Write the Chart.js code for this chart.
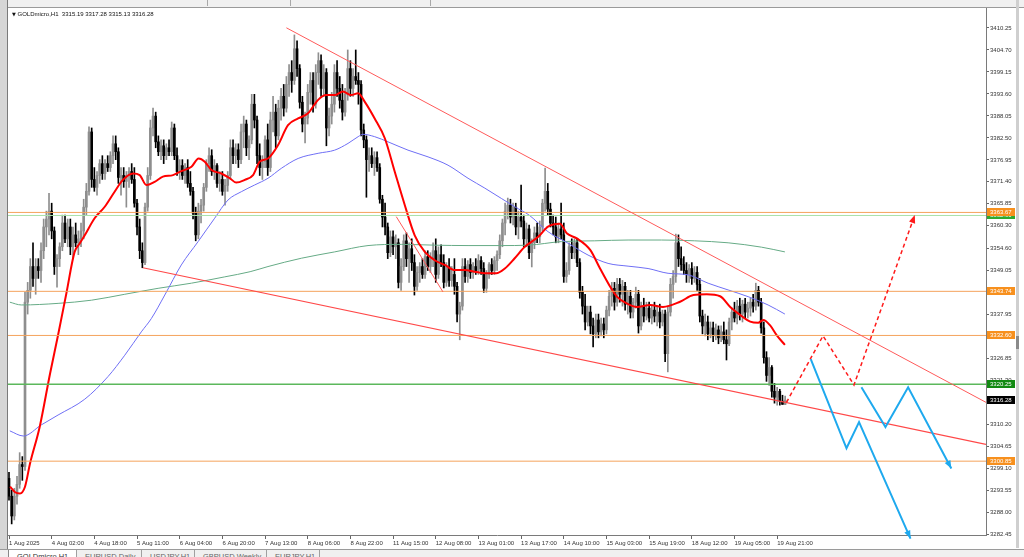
<!DOCTYPE html>
<html><head><meta charset="utf-8">
<script src="https://cdn.jsdelivr.net/npm/chart.js@4.4.1/dist/chart.umd.min.js"></script>
<style>
html,body{margin:0;padding:0;width:1024px;height:557px;overflow:hidden;background:#fff;font-family:"Liberation Sans",Arial,sans-serif;}
#wrap{position:relative;width:1024px;height:557px;}
#c{position:absolute;left:0;top:0;}
.top{position:absolute;left:0;top:0;width:1024px;height:7px;background:#f0f0f0;border-bottom:1px solid #9a9a9a;}
.sep{position:absolute;top:0;width:1px;height:6px;background:#a8a8a8;}
.left{position:absolute;left:0;top:0;width:7px;height:557px;background:#d6d6d6;border-right:1px solid #7a7a7a;}
.right{position:absolute;left:1016px;top:0;width:3px;height:548px;background:#cfcfcf;}
.thumb{position:absolute;left:1016px;top:336px;width:3px;height:13px;background:#8a8a8a;}
.tabs{position:absolute;left:0;top:549px;width:1024px;height:8px;background:#f0f0f0;border-top:1px solid #9a9a9a;overflow:hidden;}
.tab{position:absolute;top:0;height:8px;font-size:7.5px;line-height:14px;color:#666;padding-left:8px;border-right:1px solid #a0a0a0;box-sizing:border-box;overflow:hidden;white-space:nowrap;}
.tab.act{background:#fff;color:#333;border-left:1px solid #888;}
.title{position:absolute;left:12px;top:11px;font-size:6px;line-height:7px;color:#111;white-space:pre;}
.tri{font-family:"DejaVu Sans";font-size:5px;}
</style>
</head><body>
<div id="wrap">
<canvas id="c" width="1024" height="557" style="width:1024px;height:557px"></canvas>
<div class="top"><div class="sep" style="left:207px"></div><div class="sep" style="left:290px"></div><div class="sep" style="left:430px"></div></div>
<div class="left"></div>
<div class="right"></div><div class="thumb"></div>
<div class="title"><span class="tri">▼</span> GOLDmicro,H1  3315.19 3317.28 3315.13 3316.28</div>
<div class="tabs">
<div class="tab act" style="left:8px;width:69px">GOLDmicro,H1</div>
<div class="tab" style="left:77px;width:65px">EURUSD,Daily</div>
<div class="tab" style="left:142px;width:53px">USDJPY,H1</div>
<div class="tab" style="left:195px;width:72px">GBPUSD,Weekly</div>
<div class="tab" style="left:267px;width:53px">EURJPY,H1</div>
</div>
</div>
<script>
// ---- Tick labels (x: bar index of each label) ----
const xTickBars=[0,16,32,48,64,80,96,112,128,144,160,176,192,208,224,240,256,272,288];
const xTickLabels=["1 Aug 2025","4 Aug 02:00","4 Aug 18:00","5 Aug 11:00","6 Aug 04:00","6 Aug 20:00","7 Aug 13:00","8 Aug 06:00","8 Aug 22:00","11 Aug 15:00","12 Aug 08:00","13 Aug 01:00","13 Aug 17:00","14 Aug 10:00","15 Aug 03:00","15 Aug 19:00","18 Aug 12:00","19 Aug 05:00","19 Aug 21:00"];
const yTickValues=[3410.25,3404.70,3399.15,3393.60,3388.05,3382.50,3376.95,3371.40,3365.85,3360.30,3354.60,3349.05,3343.50,3337.95,3332.40,3326.85,3321.30,3315.75,3310.20,3304.65,3299.10,3293.55,3288.00,3282.45];

// ---- H1 candles (OHLC), bar 0 .. 291 ----
const opens=[3296.5,3292,3287,3292,3295,3300,3299.5,3341,3344,3350,
3347,3350,3349,3354,3360,3362,3364,3359,3350,3352,
3355,3361,3357,3360,3355,3358,3356,3357,3359,3365,
3369,3384,3372,3370,3373,3376,3373.5,3376,3375,3378,
3381,3379,3372.5,3373,3371.5,3373,3374,3372,3366,3360,
3354,3351,3365,3373,3385,3388,3381.5,3379,3380.5,3378,
3380,3379,3385,3378,3374,3375.5,3373,3375,3371,3369,
3363.5,3358,3364,3365.5,3370,3376,3378,3374,3375.5,3371,
3372,3369,3370.5,3373,3380,3378,3379.5,3377,3384,3386,
3380,3382,3391,3387,3378,3375,3376.5,3382,3375,3387,
3389,3383,3390,3393,3390,3396,3399,3397,3405,3400,
3391.5,3386,3387.5,3394,3397,3391,3399,3402,3395,3399,
3385,3388,3391,3399,3395,3392,3389,3393.5,3400,3395,
3398,3397,3396,3384.5,3382,3377,3378,3376,3377.5,3375,
3367,3362.5,3360,3353.5,3357.5,3355,3356,3346,3350,3356.5,
3352,3354.5,3351,3345,3348.5,3350,3348,3352.5,3350,3352,
3354,3348,3353,3351,3346,3350,3346.5,3348,3345,3338,
3340,3350,3347.5,3350.5,3348.5,3350,3349,3351.5,3349.5,3344.5,
3348,3350.5,3349,3351.5,3353,3356.5,3361,3364,3365.5,3362.5,
3365,3360,3362.5,3361.5,3357,3359.5,3353.5,3356,3358.5,3357.5,
3360,3366,3369,3364.5,3361,3360,3357.5,3359.5,3358,3347.5,
3349,3355,3353.5,3356,3351,3343.5,3340,3336,3338.5,3335,
3333,3336.5,3333.5,3335.5,3334,3339,3342.5,3344.5,3341,3345.5,
3343,3345,3340.5,3342.5,3338.5,3341,3343,3335,3340,3337.5,
3339.5,3337,3339,3337.5,3338.5,3336,3338,3328,3338.5,3345.5,
3347.5,3356,3352,3350.5,3349,3348,3349.5,3347,3348.5,3345.5,
3337.5,3335,3336,3333,3334.5,3332.5,3334,3332,3333.5,3331.5,
3330.5,3336,3338.5,3337,3340,3338,3340.5,3338.5,3339.5,3341,
3340,3344,3341,3334.5,3327,3322.5,3324.5,3318.5,3317,3318.5,
3316,3315.19];
const highs=[3298,3293.5,3294,3297,3303,3302,3343.5,3346,3352,3356,
3352,3352,3356,3362,3364,3368.5,3366,3360,3353,3356,
3363,3363,3362,3362,3360,3361,3359,3361,3367,3371,
3385.3,3385,3375,3374,3377,3378,3377,3378,3379,3383,
3383,3380,3375,3375,3374,3375,3376,3375,3367,3362,
3356,3366,3375,3387,3390,3389,3383,3382,3382,3381,
3382,3386.5,3386,3380,3377,3377,3376,3377,3374,3370,
3365,3366,3367,3371,3377,3380,3379.5,3377,3376,3374,
3374,3372,3374,3382,3382,3381,3381,3386,3388,3387,
3383,3393.5,3393.5,3388,3381,3378,3383,3386,3389,3393,
3391,3392,3395,3396,3398,3401,3402,3408.5,3407,3401,
3393,3389,3396,3399,3399,3401,3404,3403.5,3401,3400,
3390,3394,3401,3402,3398,3396,3395,3404.7,3402,3400,
3404.7,3399,3397,3386,3383,3380,3380,3379,3379,3376,
3368,3366,3361,3359,3359,3358,3357,3352,3358,3358.5,
3356,3357,3353,3350,3351,3352,3354,3354,3353.5,3356,
3357,3355,3355.5,3353,3351,3352,3350,3352,3346,3341,
3352,3352,3351.5,3352,3351,3352,3353,3352.5,3351,3349,
3351,3352,3352.5,3354,3358,3362,3366,3367.3,3367,3366,
3366,3364,3370.6,3363,3361,3360.5,3357,3360,3361,3361.5,
3367,3374.9,3371,3366,3363,3362.5,3361,3366,3361,3351,
3356,3357,3357,3357,3352,3345,3343,3340,3340,3337,
3338,3338,3337,3337,3340,3344,3346,3346,3347,3347,
3346.5,3346,3344,3344,3342,3344.8,3344,3341,3342,3341,
3341,3340,3341,3340,3340.5,3339,3339,3340,3347,3349,
3358.2,3358,3355,3352.5,3351,3350.5,3351,3350,3350,3347,
3339,3338,3337.5,3336,3336,3335.5,3335,3335,3336,3334,
3337,3339.5,3341,3341.5,3342,3341.5,3342,3341,3342,3343,
3345.8,3345,3342,3336,3328.5,3327,3325,3320.5,3319.5,3319,
3317.5,3317.28];
const lows=[3291,3285,3286,3290,3294,3296,3298.5,3338,3342,3345,
3343,3347,3346,3352,3355,3358,3357,3348,3344.8,3350,
3354,3356,3355,3353,3352,3355,3353,3355,3357,3363,
3368,3370,3369,3368,3371,3372,3372,3374,3374,3376,
3377,3371,3368,3370,3365,3370,3371,3365,3358,3352,
3349.7,3350.5,3364,3372,3383,3380,3378,3377,3376,3377,
3378,3378,3377,3373,3372,3372,3371,3370,3368,3362,
3356.5,3357,3361,3364,3369,3374,3373,3372,3370,3369,
3368,3365.5,3369,3372,3376,3376,3375,3376,3380,3378,
3377,3381,3385,3376,3373,3372,3375,3373,3374,3384,
3380,3382,3387,3388,3389,3393,3394,3396,3398,3390,
3384,3381.2,3386,3391,3389,3390,3396,3393,3393,3380.5,
3383,3386,3389,3393,3390,3387,3388,3392,3393,3393,
3396,3391,3383,3380,3367.5,3374,3375,3373,3374,3366,
3360,3358,3352,3352.5,3353,3352,3344.6,3344,3349,3350,
3346,3349,3342.8,3344,3346,3347,3347,3349,3348.5,3350,
3346,3347,3350,3344.6,3345,3345,3345,3343,3336,3331.5,
3339,3346,3346,3347,3347,3348,3348,3348,3343.5,3343.5,
3347,3348,3348,3349,3352,3355,3358,3362,3361,3360.5,
3358,3357,3360,3355,3355,3352,3349.9,3354.5,3356,3356,
3359,3364,3363,3360,3358,3356,3356,3357,3346,3346,
3348,3352,3352,3350,3342,3338,3334,3335,3333,3329.7,
3332,3332,3332.5,3332,3333,3337.5,3340,3339,3340,3341,
3340,3339,3338,3337,3337,3339.5,3333.2,3334,3336,3336.5,
3336,3335.5,3336,3335,3334.5,3335,3326,3323.4,3337.5,3342,
3346,3350,3349,3348,3346,3346,3345.5,3346,3344,3336,
3333,3332.5,3331.5,3332,3331,3331.5,3330.5,3331,3330.5,3326.4,
3330,3334,3336,3335.5,3336.5,3336,3337,3337,3337.5,3338.5,
3339,3340,3333.2,3325.6,3321,3320,3317,3315.5,3315,3315,
3315.2,3315.13];
const closes=[3292,3287,3292,3295,3300,3299.5,3341,3344,3350,3347,
3350,3349,3354,3360,3362,3364,3359,3350,3352,3355,
3361,3357,3360,3355,3358,3356,3357,3359,3365,3369,
3384,3372,3370,3373,3376,3373.5,3376,3375,3378,3381,
3379,3372.5,3373,3371.5,3373,3374,3372,3366,3360,3354,
3351,3365,3373,3385,3388,3381.5,3379,3380.5,3378,3380,
3379,3385,3378,3374,3375.5,3373,3375,3371,3369,3363.5,
3358,3364,3365.5,3370,3376,3378,3374,3375.5,3371,3372,
3369,3370.5,3373,3380,3378,3379.5,3377,3384,3386,3380,
3382,3391,3387,3378,3375,3376.5,3382,3375,3387,3389,
3383,3390,3393,3390,3396,3399,3397,3405,3400,3391.5,
3386,3387.5,3394,3397,3391,3399,3402,3395,3399,3385,
3388,3391,3399,3395,3392,3389,3393.5,3400,3395,3398,
3397,3396,3384.5,3382,3377,3378,3376,3377.5,3375,3367,
3362.5,3360,3353.5,3357.5,3355,3356,3346,3350,3356.5,3352,
3354.5,3351,3345,3348.5,3350,3348,3352.5,3350,3352,3354,
3348,3353,3351,3346,3350,3346.5,3348,3345,3338,3340,
3350,3347.5,3350.5,3348.5,3350,3349,3351.5,3349.5,3344.5,3348,
3350.5,3349,3351.5,3353,3356.5,3361,3364,3365.5,3362.5,3365,
3360,3362.5,3361.5,3357,3359.5,3353.5,3356,3358.5,3357.5,3360,
3366,3369,3364.5,3361,3360,3357.5,3359.5,3358,3347.5,3349,
3355,3353.5,3356,3351,3343.5,3340,3336,3338.5,3335,3333,
3336.5,3333.5,3335.5,3334,3339,3342.5,3344.5,3341,3345.5,3343,
3345,3340.5,3342.5,3338.5,3341,3343,3335,3340,3337.5,3339.5,
3337,3339,3337.5,3338.5,3336,3338,3328,3338.5,3345.5,3347.5,
3356,3352,3350.5,3349,3348,3349.5,3347,3348.5,3345.5,3337.5,
3335,3336,3333,3334.5,3332.5,3334,3332,3333.5,3331.5,3330.5,
3336,3338.5,3337,3340,3338,3340.5,3338.5,3339.5,3341,3340,
3344,3341,3334.5,3327,3322.5,3324.5,3318.5,3317,3318.5,3316,
3315.2,3316.28];

// ---- Moving averages (bar position, price) ----
const redMaBars=[0.4,2.3,4.1,6,7.9,11.5,15.4,18.4,21.5,24.6,26.5,28.4,32.1,35.9,39.6,42.7,46.5,49,51.5,54.6,57.7,61.5,64.6,68.4,71.1,73.4,75.9,79.6,82.8,85.2,88.4,91.5,94,97.1,100.9,104.6,108.4,112.1,115.9,119,122.1,125.2,128.3,130.9,133.4,137.1,140.9,144.6,148.4,152.1,155.9,159.6,163.4,167.1,170.9,174.6,178.4,182.7,185.9,189.6,193.4,198.4,202.1,206.6,209.1,212.9,217.9,221.6,225.4,227.9,231.6,235.4,240.4,245.2,251.6,256.6,261.6,266.6,270.4,274.1,277.9,280.9,282.8,285.3,287.8,290.9];
const redMaValues=[3294.4,3293,3292.7,3294.4,3300.3,3309.5,3323,3332.7,3343.2,3353.7,3355.8,3357.9,3362.2,3365.1,3368.9,3371.9,3373.5,3373.1,3370.6,3371.4,3372.7,3373.1,3374.1,3375.2,3377.3,3376.5,3374.4,3373.5,3372.3,3371.2,3371.9,3373.1,3376.5,3377.3,3380.7,3385.7,3387.4,3388.7,3392.1,3393.3,3393.3,3394.2,3393.3,3393.8,3391.6,3387.4,3382.4,3374,3365.5,3357.9,3353.7,3351.6,3350.4,3349.1,3349.1,3348.7,3348.3,3348.3,3349.5,3352.1,3355,3357.5,3360.1,3360.8,3358.4,3357.1,3354.2,3349.5,3344.9,3342.4,3340.7,3339.8,3340.3,3339.8,3341.1,3342.8,3343,3342.5,3339.8,3337.8,3336.1,3335.8,3336.5,3335.2,3332.7,3330.2];
const blueMaBars=[0.3,5.4,12.1,18.4,28.4,37.1,43.4,49.6,53.4,58.4,64.6,70.9,77.1,82.1,87.1,92.1,97.1,102.1,108.4,115.9,122.1,127.1,130.9,132.7,137.1,142.1,149.6,157.1,164.6,172.1,178.4,184.6,189.6,195,202.1,209.6,217.1,224.6,232.1,239.6,247.1,254.6,262.1,269.6,277.1,284.6,290.9];
const blueMaValues=[3308.5,3307.2,3310,3312.5,3316.5,3322.2,3327.6,3333.5,3336.9,3342.8,3350.4,3356.3,3362.2,3366.8,3368.9,3370.6,3372.3,3374.8,3377.3,3378.6,3379.4,3381.1,3382.8,3383.4,3382.8,3381.5,3379.4,3377.7,3375.6,3372.3,3369.8,3367.2,3365.1,3363,3358.8,3355.9,3352.9,3350.8,3350.1,3349.5,3348.3,3347.9,3345.8,3344.1,3342.4,3340.3,3338];
const greenMaBars=[0.3,4.6,18.4,30.9,43.4,55.9,68.4,80.9,90.4,97.1,109.6,122.1,134.6,147.1,159.6,172.1,184.6,194.6,207.1,219.6,232.1,244.6,257.1,269.6,282.1,290.9];
const greenMaValues=[3341,3340.3,3340.7,3341.5,3343,3344.5,3345.8,3347.4,3348.7,3350,3352.1,3353.7,3355.3,3355.6,3355.4,3355.3,3355.3,3355.4,3356.3,3356.5,3356.7,3356.7,3356.5,3356,3354.9,3353.7];

// ---- Drawn objects: trendlines, levels, projected paths ----
const upperTrendBars=[104,366.3], upperTrendValues=[3410.3,3315.7];
const lowerTrendBars=[50.2,366.3], lowerTrendValues=[3349.7,3305.1];
const shortTrendBars=[145.2,162.7], shortTrendValues=[3362.6,3343.6];
const redPathBars=[291.5,305.2,316.8,339.6], redPathValues=[3315.7,3332.5,3320.1,3363.0];
const bluePath1Bars=[300.6,314,318.7,338], bluePath1Values=[3326.6,3304.1,3310.7,3281.3];
const bluePath2Bars=[319.6,328.6,337.1,353.3], bluePath2Values=[3319.5,3309.5,3319.5,3299.0];
const levelValues=[3363.67,3362.9,3343.74,3332.60,3320.25,3300.85];
const levelColors=['#f5a35c','#a9e2a9','#f5a35c','#f5a35c','#5cb85c','#f5a35c'];
const boxValues=[3362.9,3363.67,3343.74,3332.60,3320.25,3300.85,3316.28];
const boxTexts=['3362.90','3363.67','3343.74','3332.60','3320.25','3300.85','3316.28'];
const boxColors=['#2fa82f','#f7901e','#f7901e','#f7901e','#128a12','#f7901e','#000000'];

const X_MIN=-0.375, X_MAX=366.3, Y_MIN=3282.2, Y_MAX=3415.3;

const pts=(xs,ys)=>xs.map((x,i)=>({x:x,y:ys[i]}));
function mkLine(xs,ys,color,width,order,extra){
  return Object.assign({type:'line',data:pts(xs,ys),borderColor:color,backgroundColor:color,borderWidth:width,
    pointRadius:0,pointHoverRadius:0,fill:false,tension:0,order:order},extra||{});
}
const bullColor='#8e8e8e', bearColor='#000000';
const candleColors=closes.map((c,i)=>c>=opens[i]?bullColor:bearColor);

const datasets=[
  {type:'bar',data:opens.map((o,i)=>({x:i,y:[lows[i],highs[i]]})),backgroundColor:candleColors,barThickness:1,grouped:false,order:30},
  {type:'bar',data:opens.map((o,i)=>({x:i,y:[o,closes[i]]})),backgroundColor:candleColors,barThickness:2,grouped:false,minBarLength:1,order:29},
  mkLine(greenMaBars,greenMaValues,'#66ab86',1,28,{cubicInterpolationMode:'monotone'}),
  mkLine(blueMaBars,blueMaValues,'#6f6ff5',1,27,{cubicInterpolationMode:'monotone'}),
  mkLine(redMaBars,redMaValues,'#ff0000',2,26,{cubicInterpolationMode:'monotone'})
];
levelValues.forEach((v,i)=>datasets.push(mkLine([X_MIN,X_MAX],[v,v],levelColors[i],i===4?1.5:1,20)));
datasets.push(mkLine(upperTrendBars,upperTrendValues,'#ff5a5a',1,10));
datasets.push(mkLine(lowerTrendBars,lowerTrendValues,'#ff4848',1.2,10));
datasets.push(mkLine(shortTrendBars,shortTrendValues,'#ff5a5a',1,10));
datasets.push(mkLine(redPathBars,redPathValues,'#ff1a1a',1.5,5,{borderDash:[4,3],arrowHead:true,clip:false}));
datasets.push(mkLine(bluePath1Bars,bluePath1Values,'#1ea9ee',2,4,{arrowHead:true,clip:false}));
datasets.push(mkLine(bluePath2Bars,bluePath2Values,'#1ea9ee',2,4,{arrowHead:true,clip:false}));

const arrowPlugin={id:'arrowHeads',afterDatasetsDraw(chart){
  const ctx=chart.ctx;
  chart.data.datasets.forEach((ds,i)=>{
    if(!ds.arrowHead) return;
    const p=chart.getDatasetMeta(i).data; const a=p[p.length-2], b=p[p.length-1];
    const ang=Math.atan2(b.y-a.y,b.x-a.x), L=8, W=3.2;
    ctx.save(); ctx.fillStyle=ds.borderColor; ctx.beginPath();
    ctx.moveTo(b.x,b.y);
    ctx.lineTo(b.x-L*Math.cos(ang)+W*Math.sin(ang),b.y-L*Math.sin(ang)-W*Math.cos(ang));
    ctx.lineTo(b.x-L*Math.cos(ang)-W*Math.sin(ang),b.y-L*Math.sin(ang)+W*Math.cos(ang));
    ctx.closePath(); ctx.fill(); ctx.restore();
  });
}};
const boxPlugin={id:'priceBoxes',afterDraw(chart){
  const ctx=chart.ctx, ys=chart.scales.y, left=chart.chartArea.right+1;
  ctx.save(); ctx.font='6px "Liberation Sans", Arial, sans-serif'; ctx.textBaseline='middle';
  boxValues.forEach((v,i)=>{
    const py=Math.round(ys.getPixelForValue(v));
    ctx.fillStyle=boxColors[i]; ctx.fillRect(left,py-4,28,8);
    ctx.fillStyle='#ffffff'; ctx.fillText(boxTexts[i],left+3,py+0.5);
  });
  ctx.restore();
}};

Chart.defaults.font.family='"Liberation Sans", Arial, sans-serif';
new Chart(document.getElementById('c'),{
  type:'bar',
  data:{datasets:datasets},
  options:{
    responsive:false,animation:false,devicePixelRatio:1,
    layout:{padding:{left:8,top:8,right:0,bottom:10}},
    plugins:{legend:{display:false},tooltip:{enabled:false}},
    events:[],
    scales:{
      x:{type:'linear',min:X_MIN,max:X_MAX,bounds:'data',offset:false,
        afterBuildTicks:s=>{s.ticks=xTickBars.map(v=>({value:v}));},
        afterFit:s=>{s.height=12;},
        ticks:{autoSkip:false,maxRotation:0,minRotation:0,align:'start',padding:1,color:'#333',font:{size:6},
          callback:v=>xTickLabels[xTickBars.indexOf(v)]},
        grid:{drawOnChartArea:false,drawTicks:true,tickLength:4,color:'#666',offset:false},
        border:{display:true,color:'#7a7a7a',width:1}},
      y:{type:'linear',position:'right',min:Y_MIN,max:Y_MAX,bounds:'data',
        afterBuildTicks:s=>{s.ticks=yTickValues.map(v=>({value:v}));},
        afterFit:s=>{s.width=38;},
        ticks:{padding:1,color:'#333',font:{size:6},callback:v=>Number(v).toFixed(2)},
        grid:{drawOnChartArea:false,drawTicks:true,tickLength:3,color:'#666'},
        border:{display:true,color:'#7a7a7a',width:1}}
    }
  },
  plugins:[arrowPlugin,boxPlugin]
});
</script>
</body></html>
